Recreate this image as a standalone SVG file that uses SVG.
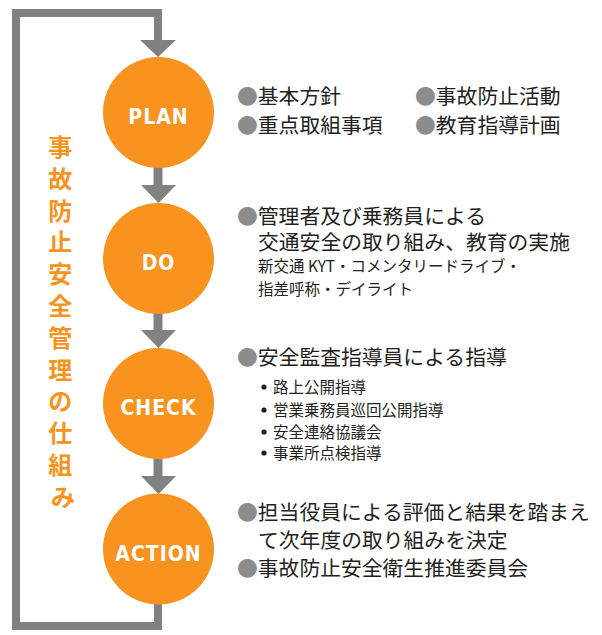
<svg xmlns="http://www.w3.org/2000/svg" width="602" height="635" viewBox="0 0 602 635">
  <defs>
    <style>
      .line { fill: none; stroke: #808185; stroke-width: 8; }
      .shaft { fill: none; stroke: #808185; stroke-width: 9; }
      .head { fill: #808185; }
      .circ { fill: #F7931E; }
      .lbl { font-family: "DejaVu Sans Condensed", "DejaVu Sans", sans-serif; font-size: 21px; font-weight: bold; fill: #ffffff; text-anchor: middle; letter-spacing: 1px; }
      .jp { font-family: "Noto Sans CJK JP", "Noto Sans", sans-serif; fill: #231F20; }
      .big { font-size: 20.8px; }
      .small { font-size: 15.5px; }
      .dot { fill: #8C8C8C; }
      .sdot { fill: #231F20; }
      .title { font-family: "Noto Sans CJK JP", "Noto Sans", sans-serif; font-size: 24px; font-weight: 700; fill: #F7931E; text-anchor: middle; }
    </style>
  </defs>

  <g id="connectors">
    <path class="line" d="M158,604 V626 H16 V13 H158 V41"/>
    <polygon class="head" points="140,40 176,40 158,57"/>
    <line class="shaft" x1="158" y1="166" x2="158" y2="186"/>
    <polygon class="head" points="141,185 176,185 158.5,203"/>
    <line class="shaft" x1="158" y1="313" x2="158" y2="331"/>
    <polygon class="head" points="141,330 176,330 158.5,348"/>
    <line class="shaft" x1="158" y1="457" x2="158" y2="477"/>
    <polygon class="head" points="141,476 176,476 158.5,494"/>
  </g>

  <g id="title">
    <text class="title">
      <tspan x="63" y="156">事</tspan>
      <tspan x="63" dy="31.8">故</tspan>
      <tspan x="63" dy="31.8">防</tspan>
      <tspan x="63" dy="31.8">止</tspan>
      <tspan x="63" dy="31.8">安</tspan>
      <tspan x="63" dy="31.8">全</tspan>
      <tspan x="63" dy="31.8">管</tspan>
      <tspan x="63" dy="31.8">理</tspan>
      <tspan x="63" dy="31.8">の</tspan>
      <tspan x="63" dy="31.8">仕</tspan>
      <tspan x="63" dy="31.8">組</tspan>
      <tspan x="63" dy="31.8">み</tspan>
    </text>
  </g>

  <g id="plan">
    <circle class="circ" cx="158.5" cy="112.5" r="55.5"/>
    <text class="lbl" x="158.5" y="124">PLAN</text>
    <text class="jp big" x="237" y="104"><tspan class="dot">●</tspan>基本方針</text>
    <text class="jp big" x="415" y="104"><tspan class="dot">●</tspan>事故防止活動</text>
    <text class="jp big" x="237" y="133"><tspan class="dot">●</tspan>重点取組事項</text>
    <text class="jp big" x="415" y="133"><tspan class="dot">●</tspan>教育指導計画</text>
  </g>

  <g id="do">
    <circle class="circ" cx="158.5" cy="258.5" r="55.5"/>
    <text class="lbl" x="158.5" y="270">DO</text>
    <text class="jp big" x="237" y="224"><tspan class="dot">●</tspan>管理者及び乗務員による</text>
    <text class="jp big" x="258" y="250">交通安全の取り組み、教育の実施</text>
    <text class="jp small" x="258" y="272">新交通 KYT・コメンタリードライブ・</text>
    <text class="jp small" x="258" y="295">指差呼称・デイライト</text>
  </g>

  <g id="check">
    <circle class="circ" cx="158.5" cy="403.5" r="55.5"/>
    <text class="lbl" x="158.5" y="415">CHECK</text>
    <text class="jp big" x="237" y="365"><tspan class="dot">●</tspan>安全監査指導員による指導</text>
    <circle class="sdot" cx="264" cy="387" r="2.6"/>
    <text class="jp small" x="273" y="393">路上公開指導</text>
    <circle class="sdot" cx="264" cy="410" r="2.6"/>
    <text class="jp small" x="273" y="416">営業乗務員巡回公開指導</text>
    <circle class="sdot" cx="264" cy="432" r="2.6"/>
    <text class="jp small" x="273" y="438">安全連絡協議会</text>
    <circle class="sdot" cx="264" cy="453" r="2.6"/>
    <text class="jp small" x="273" y="459">事業所点検指導</text>
  </g>

  <g id="action">
    <circle class="circ" cx="158.5" cy="549" r="55.5"/>
    <text class="lbl" x="158.5" y="560.5">ACTION</text>
    <text class="jp big" x="237" y="520"><tspan class="dot">●</tspan>担当役員による評価と結果を踏まえ</text>
    <text class="jp big" x="258" y="548">て次年度の取り組みを決定</text>
    <text class="jp big" x="237" y="576"><tspan class="dot">●</tspan>事故防止安全衛生推進委員会</text>
  </g>
</svg>
